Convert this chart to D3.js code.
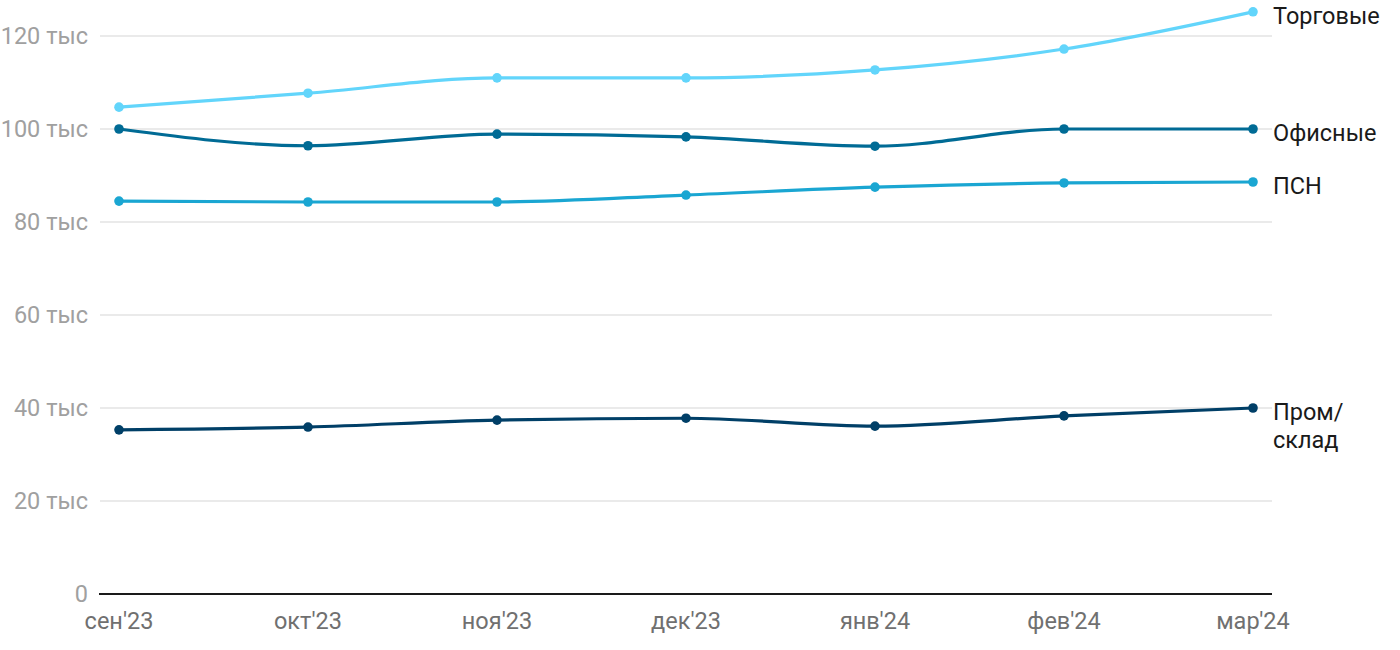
<!DOCTYPE html>
<html><head><meta charset="utf-8">
<script src="https://cdn.jsdelivr.net/npm/d3@7"></script>
<style>body{margin:0;background:#fff;font-family:Roboto,"Noto Sans",sans-serif;}</style>
</head><body>
<svg id="c" width="1400" height="650"></svg>
<script>
const months = ["сен'23","окт'23","ноя'23","дек'23","янв'24","фев'24","мар'24"];
const torgovye = [104.7, 107.7, 111.0, 111.0, 112.7, 117.2, 125.2];
const ofisnye = [100.0, 96.4, 98.9, 98.3, 96.3, 100.0, 100.0];
const psn = [84.5, 84.3, 84.3, 85.8, 87.5, 88.4, 88.6];
const prom = [35.3, 35.9, 37.4, 37.8, 36.1, 38.3, 40.0];
const yTicks = [0, 20, 40, 60, 80, 100, 120];
const seriesNames = [["Торговые"], ["Офисные"], ["ПСН"], ["Пром/", "склад"]];
const seriesColors = ["#62d5fb", "#006b95", "#1aa6d2", "#003f67"];

const series = [torgovye, ofisnye, psn, prom].map((v, i) => ({values: v, name: seriesNames[i], color: seriesColors[i]}));

const svg = d3.select("#c");
const x = d3.scalePoint().domain(months).range([119, 1253]);
const y = d3.scaleLinear().domain([0, 120]).range([594, 36]);
const gridX0 = 100, gridX1 = 1272;

svg.append("g").selectAll("line").data(yTicks.filter(t => t > 0)).join("line")
  .attr("x1", gridX0).attr("x2", gridX1)
  .attr("y1", d => y(d)).attr("y2", d => y(d))
  .attr("stroke", "#e3e3e3").attr("stroke-width", 1.5);

svg.append("g").selectAll("text").data(yTicks).join("text")
  .attr("x", 88).attr("y", d => y(d)).attr("dy", "0.35em")
  .attr("text-anchor", "end").attr("fill", "#a0a0a0")
  .style("font-size", "23.5px")
  .text(d => d === 0 ? "0" : d + " тыс");

svg.append("line").attr("x1", gridX0 - 1).attr("x2", gridX1)
  .attr("y1", y(0)).attr("y2", y(0)).attr("stroke", "#1a1a1a").attr("stroke-width", 2);

svg.append("g").selectAll("text").data(months).join("text")
  .attr("x", d => x(d)).attr("y", 629)
  .attr("text-anchor", "middle").attr("fill", "#707070")
  .style("font-size", "23.5px")
  .text(d => d);

const line = d3.line().x((d, i) => x(months[i])).y(d => y(d)).curve(d3.curveMonotoneX);

const g = svg.append("g");
series.forEach(s => {
  g.append("path").datum(s.values).attr("d", line)
    .attr("fill", "none").attr("stroke", s.color).attr("stroke-width", 3.2)
    .attr("stroke-linejoin", "round").attr("stroke-linecap", "round");
  g.selectAll(null).data(s.values).join("circle")
    .attr("cx", (d, i) => x(months[i])).attr("cy", d => y(d)).attr("r", 4.8)
    .attr("fill", s.color);
  const last = s.values[s.values.length - 1];
  const t = g.append("text").attr("x", 1273).attr("y", y(last) + 4)
    .attr("fill", "#1a1a1a").style("font-size", "23.5px");
  s.name.forEach((n, k) => {
    t.append("tspan").attr("x", 1273).attr("dy", k === 0 ? "0.35em" : "28px").text(n);
  });
});
</script>
</body></html>
